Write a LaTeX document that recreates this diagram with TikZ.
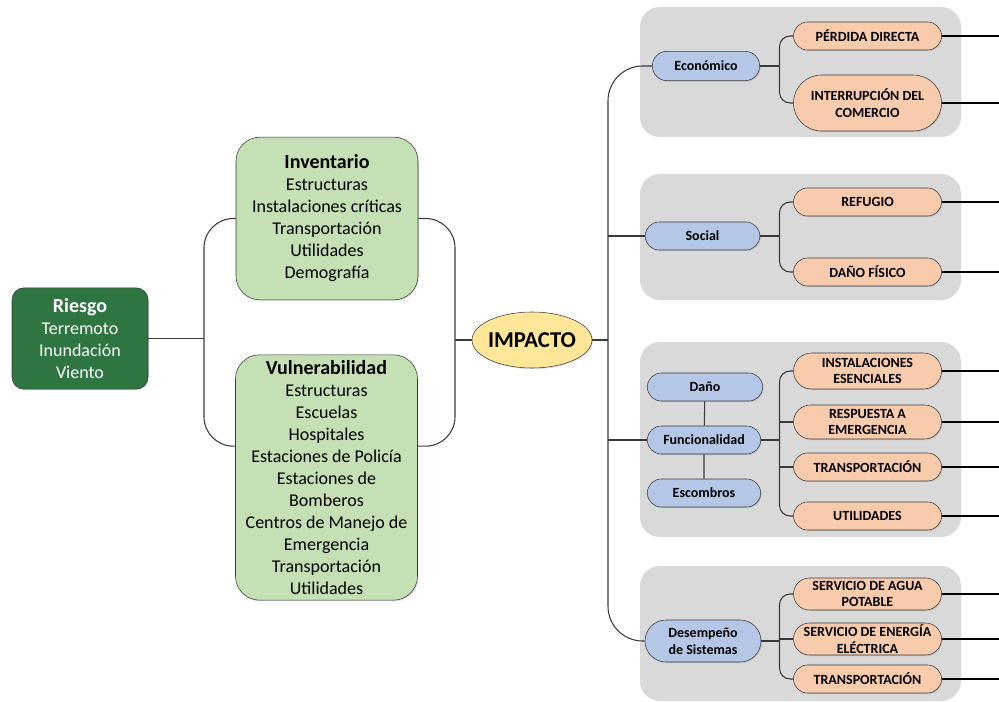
\documentclass[tikz,border=0pt]{standalone}
\usepackage{fontspec}
\setmainfont{Carlito}
\usepackage{tikz}
\usetikzlibrary{shapes.geometric,shapes.misc,shadows,calc}
\definecolor{RIESGOverde}{HTML}{2E7542}
\definecolor{GRUPOverde}{HTML}{C5E0B4}
\definecolor{IMPACTOamarillo}{HTML}{FFE699}
\definecolor{CATazul}{HTML}{B4C7E7}
\definecolor{EFECTOnaranja}{HTML}{F8CBAD}
\definecolor{PANELgris}{HTML}{D9D9D9}
\definecolor{BORDEgris}{HTML}{3A3A3A}
\tikzstyle{sombra} = [drop shadow={shadow xshift=0.7pt, shadow yshift=-0.9pt, opacity=0.25}]
\tikzstyle{riesgo} = [rectangle, rounded corners=9pt, sombra,
minimum width=102pt,
minimum height=76pt,
align=center,
draw=BORDEgris, fill=RIESGOverde, text=white,
font=\fontsize{13.5}{16.5}\selectfont]
\tikzstyle{grupo} = [rectangle, rounded corners=18pt, sombra,
minimum width=136.5pt,
inner sep=1pt,
align=center,
draw=BORDEgris, fill=GRUPOverde,
font=\fontsize{13.5}{16.5}\selectfont]
\tikzstyle{impacto} = [ellipse, sombra,
inner xsep=-4.5pt, inner ysep=0pt,
minimum width=90pt,
minimum height=42pt,
draw=BORDEgris, fill=IMPACTOamarillo,
font=\fontsize{17}{20}\selectfont\bfseries]
\tikzstyle{categoria} = [rounded rectangle, sombra,
minimum width=87pt,
minimum height=21pt,
inner sep=1pt,
align=center,
draw=BORDEgris, fill=CATazul,
font=\fontsize{10.5}{12.5}\selectfont\bfseries]
\tikzstyle{efecto} = [rounded rectangle, sombra,
minimum width=113pt,
minimum height=21pt,
inner sep=1pt,
align=center,
draw=BORDEgris, fill=EFECTOnaranja,
font=\fontsize{10.5}{12.5}\selectfont\bfseries]
\tikzstyle{panel} = [fill=PANELgris, rounded corners=15pt]
\tikzstyle{linea} = [draw=BORDEgris, line width=0.8pt]
\tikzstyle{salida} = [draw=black, line width=1.3pt]
\newcommand{\titulo}[1]{{\fontsize{15}{18}\selectfont\bfseries #1}}

\begin{document}
\begin{tikzpicture}[x=0.75pt, y=-0.75pt]
\useasboundingbox (0,0) rectangle (999,702);
% paneles de fondo
\fill[panel] (640,7) rectangle (961,137);
\fill[panel] (640,174) rectangle (961,300);
\fill[panel] (640,342) rectangle (961,537);
\fill[panel] (640,566) rectangle (961,701);

% lado izquierdo
\node[riesgo] (riesgo) at (80,338.5) {\titulo{Riesgo}\\Terremoto\\Inundación\\Viento};
\node[grupo, minimum height=122pt] (inv) at (327,218.5) {\titulo{Inventario}\\Estructuras\\Instalaciones críticas\\Transportación\\Utilidades\\Demografía};
\node[grupo, minimum height=184pt] (vul) at (326.5,477.5) {\titulo{Vulnerabilidad}\\Estructuras\\Escuelas\\Hospitales\\Estaciones de Policía\\Estaciones de\\Bomberos\\Centros de Manejo de\\Emergencia\\Transportación\\Utilidades};
\node[impacto] (imp) at (532,340) {IMPACTO};

% categorias
\node[categoria, minimum width=82.5pt, minimum height=22pt] (econ) at (706,66) {Económico};
\node[categoria, minimum width=88pt] (social) at (702.5,236) {Social};
\node[categoria, minimum width=88.5pt] (dano) at (705,387) {Daño};
\node[categoria] (func) at (704,440) {Funcionalidad};
\node[categoria] (escom) at (704,493) {Escombros};
\node[categoria, minimum width=89pt, minimum height=31.5pt] (desem) at (703,641) {Desempeño\\de Sistemas};

% efectos
\node[efecto] (perd) at (867.5,36) {PÉRDIDA DIRECTA};
\node[efecto, minimum height=42pt] (interr) at (867.5,103) {INTERRUPCIÓN DEL\\COMERCIO};
\node[efecto] (refugio) at (867.5,202) {REFUGIO};
\node[efecto] (danof) at (867.5,272) {DAÑO FÍSICO};
\node[efecto, minimum height=27pt] (inst) at (867.5,371) {INSTALACIONES\\ESENCIALES};
\node[efecto, minimum height=25.5pt] (resp) at (867.5,422) {RESPUESTA A\\EMERGENCIA};
\node[efecto] (transp) at (867.5,467) {TRANSPORTACIÓN};
\node[efecto] (util) at (867.5,516) {UTILIDADES};
\node[efecto, minimum height=24pt] (agua) at (867.5,594) {SERVICIO DE AGUA\\POTABLE};
\node[efecto, minimum height=24pt] (energ) at (867.5,639) {SERVICIO DE ENERGÍA\\ELÉCTRICA};
\node[efecto] (transpd) at (867.5,679) {TRANSPORTACIÓN};

\coordinate (izq) at (204,0);
\coordinate (der) at (455,0);
\coordinate (tronco) at (608,0);
\coordinate (rama) at (779.5,0);
\coordinate (borde) at (999,0);
\coordinate (vulizq) at ([yshift=23.5pt]vul.west);
\coordinate (vulder) at ([yshift=23.5pt]vul.east);

% conectores
\draw[linea] (riesgo.east) -- (riesgo.east -| izq);
\draw[linea, rounded corners=22pt] (inv.west) -| (izq |- vulizq) -- (vulizq);
\draw[linea, rounded corners=22pt] (inv.east) -| (der |- vulder) -- (vulder);
\draw[linea] (imp.west -| der) -- (imp.west);
\draw[linea] (imp.east) -- (imp.east -| tronco);
\draw[linea, rounded corners=26pt] (econ.west) -| (tronco |- desem.west) -- (desem.west);
\draw[linea] (social.west -| tronco) -- (social.west);
\draw[linea] (func.west -| tronco) -- (func.west);
\draw[linea] (dano) -- (func);
\draw[linea] (func) -- (escom);

\draw[linea] (econ.east) -- (econ.east -| rama);
\draw[linea, rounded corners=8pt] (perd.west) -| (rama |- interr.west) -- (interr.west);
\draw[linea] (social.east) -- (social.east -| rama);
\draw[linea, rounded corners=8pt] (refugio.west) -| (rama |- danof.west) -- (danof.west);
\draw[linea] (func.east) -- (func.east -| rama);
\draw[linea, rounded corners=8pt] (inst.west) -| (rama |- util.west) -- (util.west);
\draw[linea] (resp.west -| rama) -- (resp.west);
\draw[linea] (transp.west -| rama) -- (transp.west);
\draw[linea] (desem.east) -- (desem.east -| rama);
\draw[linea, rounded corners=8pt] (agua.west) -| (rama |- transpd.west) -- (transpd.west);
\draw[linea] (energ.west -| rama) -- (energ.west);

\foreach \n in {perd,interr,refugio,danof,inst,resp,transp,util,agua,energ,transpd}
  \draw[salida] (\n.east) -- (\n.east -| borde);
\end{tikzpicture}
\end{document}
